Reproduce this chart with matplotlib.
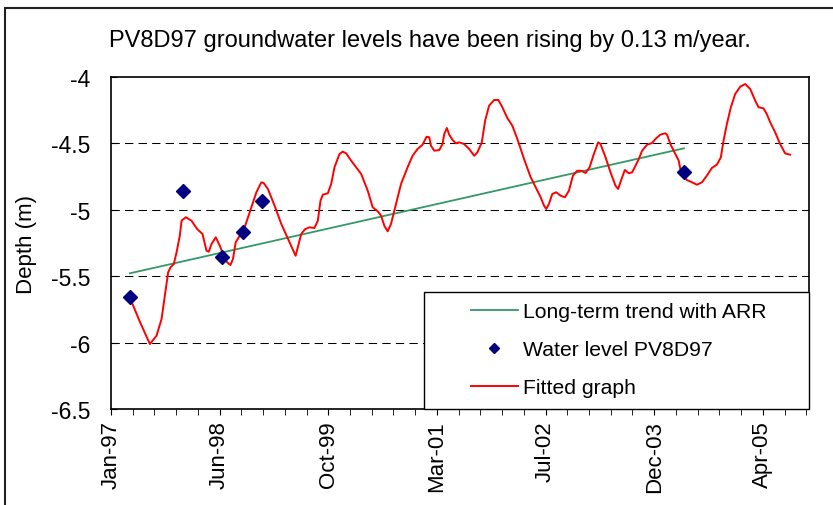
import numpy as np
import matplotlib
matplotlib.use("Agg")
import matplotlib.pyplot as plt
from matplotlib.patches import Rectangle
from matplotlib.lines import Line2D

plt.rcParams['font.family'] = ['Liberation Sans', 'DejaVu Sans']

# fitted graph (decimal year, depth in m)
fit_year = [1997.313, 1997.439, 1997.564, 1997.648, 1997.711, 1997.753, 1997.794, 1997.824,
            1997.866, 1997.900, 1997.941, 1997.963, 1998.017, 1998.088, 1998.159, 1998.227,
            1998.277, 1998.306, 1998.340, 1998.394, 1998.444, 1998.486, 1998.536, 1998.579,
            1998.611, 1998.645, 1998.696, 1998.758, 1998.821, 1998.906, 1998.968, 1998.997,
            1999.051, 1999.135, 1999.220, 1999.324, 1999.400, 1999.471, 1999.521, 1999.575,
            1999.638, 1999.680, 1999.714, 1999.743, 1999.806, 1999.848, 1999.890, 1999.953,
            1999.994, 2000.037, 2000.100, 2000.226, 2000.309, 2000.371, 2000.434, 2000.477,
            2000.518, 2000.560, 2000.602, 2000.665, 2000.728, 2000.811, 2000.874, 2000.937,
            2000.999, 2001.050, 2001.084, 2001.105, 2001.147, 2001.210, 2001.251, 2001.273,
            2001.306, 2001.335, 2001.377, 2001.420, 2001.461, 2001.524, 2001.587, 2001.650,
            2001.691, 2001.746, 2001.788, 2001.838, 2001.901, 2001.955, 2002.005, 2002.068,
            2002.131, 2002.194, 2002.278, 2002.362, 2002.425, 2002.488, 2002.530, 2002.558,
            2002.592, 2002.634, 2002.684, 2002.740, 2002.793, 2002.844, 2002.894, 2002.948,
            2003.003, 2003.054, 2003.104, 2003.158, 2003.212, 2003.242, 2003.305, 2003.368,
            2003.431, 2003.464, 2003.507, 2003.548, 2003.598, 2003.640, 2003.683, 2003.724,
            2003.766, 2003.828, 2003.891, 2003.934, 2003.996, 2004.059, 2004.080, 2004.122,
            2004.185, 2004.227, 2004.248, 2004.268, 2004.331, 2004.394, 2004.457, 2004.520,
            2004.582, 2004.645, 2004.708, 2004.758, 2004.792, 2004.834, 2004.884, 2004.939,
            2005.002, 2005.065, 2005.128, 2005.191, 2005.233, 2005.295, 2005.337, 2005.380,
            2005.442, 2005.505, 2005.568, 2005.631]
fit_depth = [-5.664, -5.845, -6.011, -5.948, -5.822, -5.647, -5.471, -5.433,
             -5.408, -5.320, -5.195, -5.082, -5.056, -5.082, -5.145, -5.182,
             -5.308, -5.316, -5.258, -5.207, -5.270, -5.333, -5.395, -5.416,
             -5.370, -5.245, -5.195, -5.132, -5.019, -4.868, -4.793, -4.798,
             -4.843, -4.969, -5.107, -5.245, -5.346, -5.182, -5.145, -5.132,
             -5.137, -5.082, -4.931, -4.886, -4.876, -4.806, -4.680, -4.580,
             -4.562, -4.575, -4.630, -4.730, -4.856, -4.981, -5.011, -5.044,
             -5.120, -5.162, -5.107, -4.956, -4.806, -4.680, -4.593, -4.542,
             -4.510, -4.450, -4.454, -4.517, -4.555, -4.550, -4.505, -4.429,
             -4.384, -4.434, -4.474, -4.499, -4.492, -4.505, -4.542, -4.593,
             -4.567, -4.492, -4.329, -4.216, -4.173, -4.173, -4.228, -4.309,
             -4.367, -4.467, -4.617, -4.755, -4.831, -4.906, -4.969, -4.994,
             -4.956, -4.881, -4.868, -4.894, -4.906, -4.856, -4.743, -4.706,
             -4.706, -4.723, -4.680, -4.580, -4.492, -4.505, -4.605, -4.718,
             -4.819, -4.843, -4.768, -4.700, -4.725, -4.718, -4.668, -4.617,
             -4.555, -4.510, -4.497, -4.467, -4.434, -4.424, -4.434, -4.505,
             -4.580, -4.630, -4.693, -4.730, -4.776, -4.793, -4.811, -4.793,
             -4.743, -4.685, -4.660, -4.605, -4.480, -4.354, -4.228, -4.128,
             -4.073, -4.053, -4.090, -4.178, -4.228, -4.236, -4.279, -4.341,
             -4.416, -4.505, -4.575, -4.585]

# measured water levels
obs_year = [1997.313, 1997.975, 1998.473, 1998.737, 1998.981, 2004.293]
obs_depth = [-5.66, -4.86, -5.355, -5.167, -4.936, -4.713]

# long-term trend
trend_year = [1997.313, 2004.293]
trend_depth = [-5.478, -4.537]

y_ticks = [-4, -4.5, -5, -5.5, -6, -6.5]
y_grid = [-4.5, -5, -5.5, -6]
x_tick_labels = ["Jan-97", "Jun-98", "Oct-99", "Mar-01", "Jul-02", "Dec-03", "Apr-05"]
x_start = 1997.074          # 28 Jan 1997, axis origin
major_step = 500 / 365.25   # 500 day major unit
minor_step = 100 / 365.25

fig = plt.figure(figsize=(8.33, 5.06), dpi=100)
ax = fig.add_axes([111 / 833, 96 / 506, 697.5 / 833, 332 / 506])

# outer chart frame
fig.patches.append(Rectangle((5 / 833, -0.1), 1.2, 1.1 - 9 / 506, transform=fig.transFigure,
                             fill=False, edgecolor='#202020', linewidth=1.5))

for g in y_grid:
    ax.axhline(g, color='black', linewidth=0.75, linestyle=(0, (8, 5)), zorder=1)

ax.plot(trend_year, trend_depth, color='#339966', linewidth=1.3, zorder=2)
ax.plot(obs_year, obs_depth, linestyle='none', marker='D', markersize=7,
        color='#000080', zorder=4)
ax.plot(fit_year, fit_depth, color='#FF0000', linewidth=1.4, zorder=3)

ax.set_ylim(-6.5, -4)
ax.set_yticks(y_ticks)
ax.set_yticklabels([f"{v:g}" for v in y_ticks], fontsize=16.5)
ax.tick_params(axis='y', direction='in', length=4, pad=15)

ax.set_xlim(x_start, x_start + 3210 / 365.25)
ax.set_xticks([x_start + i * major_step for i in range(len(x_tick_labels))])
ax.set_xticklabels(x_tick_labels, rotation=90, fontsize=16)
ax.set_xticks([x_start + i * minor_step for i in range(33)], minor=True)
ax.tick_params(axis='x', which='both', direction='out', length=4, pad=4)

for s in ax.spines.values():
    s.set_color('black')
    s.set_linewidth(1.2)

ax.set_ylabel("Depth (m)", fontsize=16, labelpad=10)

fig.text(109 / 833, 1 - 46.7 / 506, "PV8D97 groundwater levels have been rising by 0.13 m/year.",
         fontsize=17, va='baseline', ha='left')

# legend box
ax.add_patch(Rectangle((0.449, 0.0), 0.551, 0.352, transform=ax.transAxes,
                       facecolor='white', edgecolor='black', linewidth=1.0, zorder=5,
                       clip_on=False))
handles = [Line2D([], [], color='#339966', linewidth=1.3),
           Line2D([], [], linestyle='none', marker='D', markersize=5, color='#000080'),
           Line2D([], [], color='#FF0000', linewidth=1.4)]
leg = ax.legend(handles, ["Long-term trend with ARR", "Water level PV8D97", "Fitted graph"],
                loc='upper left', bbox_to_anchor=(0.516, 0.322), frameon=False,
                fontsize=15.2, borderpad=0, handlelength=2.23, handletextpad=0.25,
                labelspacing=0.9, borderaxespad=0)
leg.set_zorder(6)

fig.savefig("out.png", dpi=100)
